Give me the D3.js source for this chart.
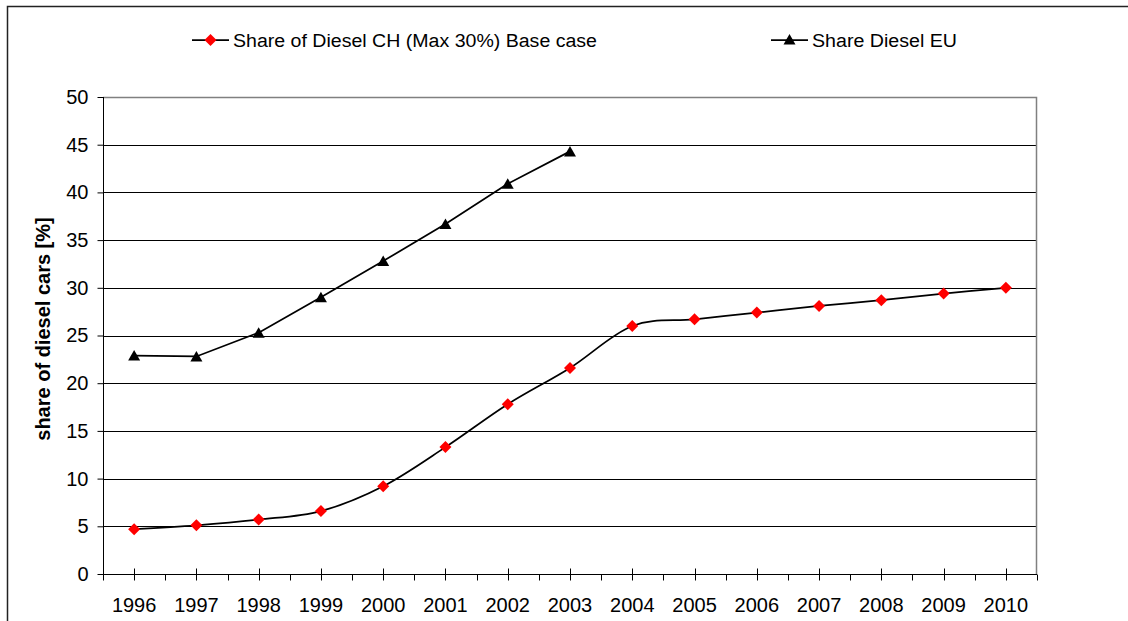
<!DOCTYPE html>
<html>
<head>
<meta charset="utf-8">
<script src="https://cdn.jsdelivr.net/npm/d3@7"></script>
<style>
  html, body { margin: 0; padding: 0; background: #fff; overflow: hidden; }
  svg { display: block; font-family: "Liberation Sans", Arial, sans-serif; }
</style>
</head>
<body>
<svg id="chart" width="1128" height="621"></svg>
<script>
const years = ["1996","1997","1998","1999","2000","2001","2002","2003","2004","2005","2006","2007","2008","2009","2010"];
const chShare = [4.7, 5.1, 5.7, 6.6, 9.2, 13.3, 17.8, 21.6, 26.0, 26.7, 27.4, 28.1, 28.7, 29.4, 30.0];
const euYears = ["1996","1997","1998","1999","2000","2001","2002","2003"];
const euShare = [22.9, 22.8, 25.3, 29.0, 32.8, 36.7, 40.9, 44.3];
const yTicks = [0, 5, 10, 15, 20, 25, 30, 35, 40, 45, 50];
const seriesNames = ["Share of Diesel CH (Max 30%) Base case", "Share Diesel EU"];
const yTitle = "share of diesel cars [%]";

const svg = d3.select("#chart");
const pL = 103, pR = 1037, pT = 97, pB = 574;

const x = d3.scaleBand().domain(years).range([pL, pR]).padding(0);
const y = d3.scaleLinear().domain([0, 50]).range([pB, pT]);
const cx = d => x(d) + x.bandwidth() / 2;

// outer frame (top and left edges visible)
svg.append("path").attr("d", "M7.5,621V6.5H1128")
  .attr("fill", "none").attr("stroke", "#222").attr("stroke-width", 1.5);

// gridlines
svg.append("g").selectAll("line").data(yTicks.filter(t => t > 0 && t < 50)).join("line")
  .attr("x1", pL).attr("x2", pR)
  .attr("y1", d => Math.round(y(d)) + 0.5).attr("y2", d => Math.round(y(d)) + 0.5)
  .attr("stroke", "#000").attr("stroke-width", 1);

// plot area border (top, right)
svg.append("path")
  .attr("d", `M${pL},${y(50) + 0.5}H${pR - 0.5}V${pB}`)
  .attr("fill", "none").attr("stroke", "#808080").attr("stroke-width", 1.5);

// y axis
const yAxis = d3.axisLeft(y).tickValues(yTicks).tickSize(6).tickPadding(9);
const gy = svg.append("g").attr("transform", `translate(${pL + 0.5},0)`).call(yAxis);
gy.select(".domain").attr("stroke", "#000").attr("d", `M-0,${pT}V${pB}`);
gy.selectAll(".tick line").attr("stroke", "#000");
gy.selectAll(".tick text").attr("font-size", 20).attr("fill", "#000")
  .attr("font-family", "Liberation Sans, Arial, sans-serif");

// x axis
const gx = svg.append("g").attr("transform", `translate(0,${pB + 0.5})`);
gx.append("line").attr("x1", pL).attr("x2", pR).attr("stroke", "#000").attr("stroke-width", 1);
const bounds = years.map(d => x(d)).concat([pR]);
gx.selectAll("line.minor").data(bounds).join("line").attr("class", "minor")
  .attr("x1", d => Math.round(d) + 0.5).attr("x2", d => Math.round(d) + 0.5)
  .attr("y1", 0).attr("y2", 6).attr("stroke", "#000");
gx.selectAll("line.major").data(years).join("line").attr("class", "major")
  .attr("x1", d => Math.round(cx(d)) + 0.5).attr("x2", d => Math.round(cx(d)) + 0.5)
  .attr("y1", -6).attr("y2", 6).attr("stroke", "#000");
gx.selectAll("text").data(years).join("text")
  .attr("x", d => cx(d)).attr("y", 37)
  .attr("text-anchor", "middle").attr("font-size", 20).attr("fill", "#000")
  .text(d => d);

// y title
svg.append("text")
  .attr("transform", `translate(50,329) rotate(-90)`)
  .attr("text-anchor", "middle").attr("font-size", 20).attr("font-weight", "bold")
  .text(yTitle);

// CH line (smoothed)
const chData = years.map((d, i) => ({ k: d, v: chShare[i] }));
svg.append("path").datum(chData)
  .attr("d", d3.line().x(d => cx(d.k)).y(d => y(d.v)).curve(d3.curveCardinal.tension(0)))
  .attr("fill", "none").attr("stroke", "#000").attr("stroke-width", 1.75);

// EU line
const euData = euYears.map((d, i) => ({ k: d, v: euShare[i] }));
svg.append("path").datum(euData)
  .attr("d", d3.line().x(d => cx(d.k)).y(d => y(d.v)))
  .attr("fill", "none").attr("stroke", "#000").attr("stroke-width", 1.75);

const diamond = "M0,-6L6,0L0,6L-6,0Z";
const tri = "M0,-6L6,4.5L-6,4.5Z";

svg.append("g").selectAll("path").data(chData).join("path")
  .attr("transform", d => `translate(${cx(d.k)},${y(d.v)})`)
  .attr("d", diamond).attr("fill", "#ff0000");
svg.append("g").selectAll("path").data(euData).join("path")
  .attr("transform", d => `translate(${cx(d.k)},${y(d.v) + 0.5})`)
  .attr("d", tri).attr("fill", "#000");

// legend
const legY = 40;
const leg = [
  { x1: 192, x2: 229, tx: 233, w: 364, shape: diamond, fill: "#ff0000", name: seriesNames[0] },
  { x1: 771, x2: 808, tx: 812, w: 145, shape: tri, fill: "#000", name: seriesNames[1] }
];
const lg = svg.append("g").selectAll("g").data(leg).join("g");
lg.append("line").attr("x1", d => d.x1).attr("x2", d => d.x2)
  .attr("y1", legY).attr("y2", legY).attr("stroke", "#000").attr("stroke-width", 1.75);
lg.append("path").attr("transform", d => `translate(${(d.x1 + d.x2) / 2},${legY})`)
  .attr("d", d => d.shape).attr("fill", d => d.fill);
lg.append("text").attr("x", d => d.tx).attr("y", legY + 6.5)
  .attr("font-size", 18).attr("fill", "#000")
  .attr("textLength", d => d.w).attr("lengthAdjust", "spacingAndGlyphs")
  .text(d => d.name);
</script>
</body>
</html>
